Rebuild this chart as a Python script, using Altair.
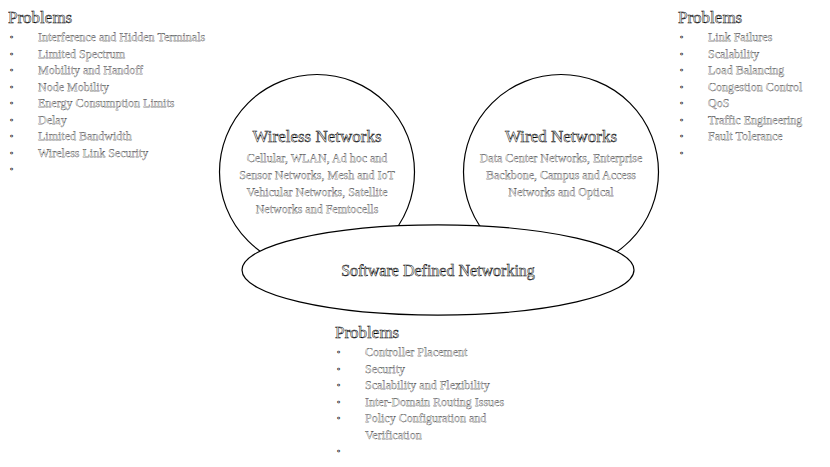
import altair as alt
import pandas as pd

FONT = "Liberation Serif"

# problem lists (text is almost white in the reference)
left_items = ["Interference and Hidden Terminals", "Limited Spectrum", "Mobility and Handoff",
              "Node Mobility", "Energy Consumption Limits", "Delay", "Limited Bandwidth",
              "Wireless Link Security", ""]
right_items = ["Link Failures", "Scalability", "Load Balancing", "Congestion Control",
               "QoS", "Traffic Engineering", "Fault Tolerance", ""]
bottom_items = ["Controller Placement", "Security", "Scalability and Flexibility",
                "Inter-Domain Routing Issues", "Policy Configuration and"]
bottom_cont = "Verification"

wireless_lines = ["Cellular, WLAN, Ad hoc and", "Sensor Networks, Mesh and IoT",
                  "Vehicular Networks, Satellite", "Networks and Femtocells"]
wired_lines = ["Data Center Networks, Enterprise", "Backbone, Campus and Access",
               "Networks and Optical"]

shapes = pd.DataFrame({"x": [317, 561], "y": [172, 172], "size": [195 ** 2, 195 ** 2]})
ellipse = pd.DataFrame({"x": [438], "y": [270], "size": [392 ** 2]})

rows = []
def add(x, y, t, s, a="left", w=0.5):
    rows.append(dict(x=x, y=y, text=t, fs=s, align=a, sw=w))

for ox, oy, items in [(8, 18, left_items), (678, 18, right_items), (335, 333, bottom_items)]:
    add(ox, oy, "Problems", 17)
    for i, t in enumerate(items):
        y = oy + 19 + i * 16.5
        add(ox + 2, y, "•", 9, w=0.6)
        add(ox + 30, y, t, 12, w=0.25)
add(365, 333 + 19 + 5 * 16.5, bottom_cont, 12, w=0.25)
add(337, 333 + 19 + 6 * 16.5, "•", 9, w=0.6)

add(317, 137, "Wireless Networks", 17, "center")
for i, t in enumerate(wireless_lines):
    add(317, 158 + i * 17, t, 12, "center", w=0.25)
add(561, 137, "Wired Networks", 17, "center")
for i, t in enumerate(wired_lines):
    add(561, 158 + i * 17, t, 12, "center", w=0.25)
add(438, 271, "Software Defined Networking", 16, "center")
texts = pd.DataFrame(rows)

xs = alt.Scale(domain=[8, 822], range=[0, 814])
ys = alt.Scale(domain=[8, 459], range=[0, 451])
X = alt.X("x:Q", scale=xs, axis=None)
Y = alt.Y("y:Q", scale=ys, axis=None)

circles = alt.Chart(shapes).mark_point(shape="circle", filled=False, color="black",
                                       strokeWidth=1.2, opacity=1).encode(
    x=X, y=Y, size=alt.Size("size:Q", scale=None, legend=None))
oval = alt.Chart(ellipse).mark_point(
    shape="M-1,0A1,0.23,0,1,1,1,0A1,0.23,0,1,1,-1,0Z",
    fill="white", fillOpacity=1, stroke="black", strokeWidth=1.2, opacity=1).encode(
    x=X, y=Y, size=alt.Size("size:Q", scale=None, legend=None))

layers = [circles, oval]
for (a, fs, w), sub in texts.groupby(["align", "fs", "sw"]):
    layers.append(alt.Chart(sub[["x", "y", "text"]]).mark_text(
        align=a, baseline="middle", font=FONT, fontSize=float(fs),
        fill="white", stroke="black", strokeWidth=float(w), strokeOpacity=1).encode(
        x=X, y=Y, text="text:N"))

chart = alt.layer(*layers).properties(
    width=814, height=451, autosize=alt.AutoSizeParams(type="none"), padding=0
).configure_view(stroke=None)

chart.save("out.html", embed_options={"renderer": "svg", "actions": False})
